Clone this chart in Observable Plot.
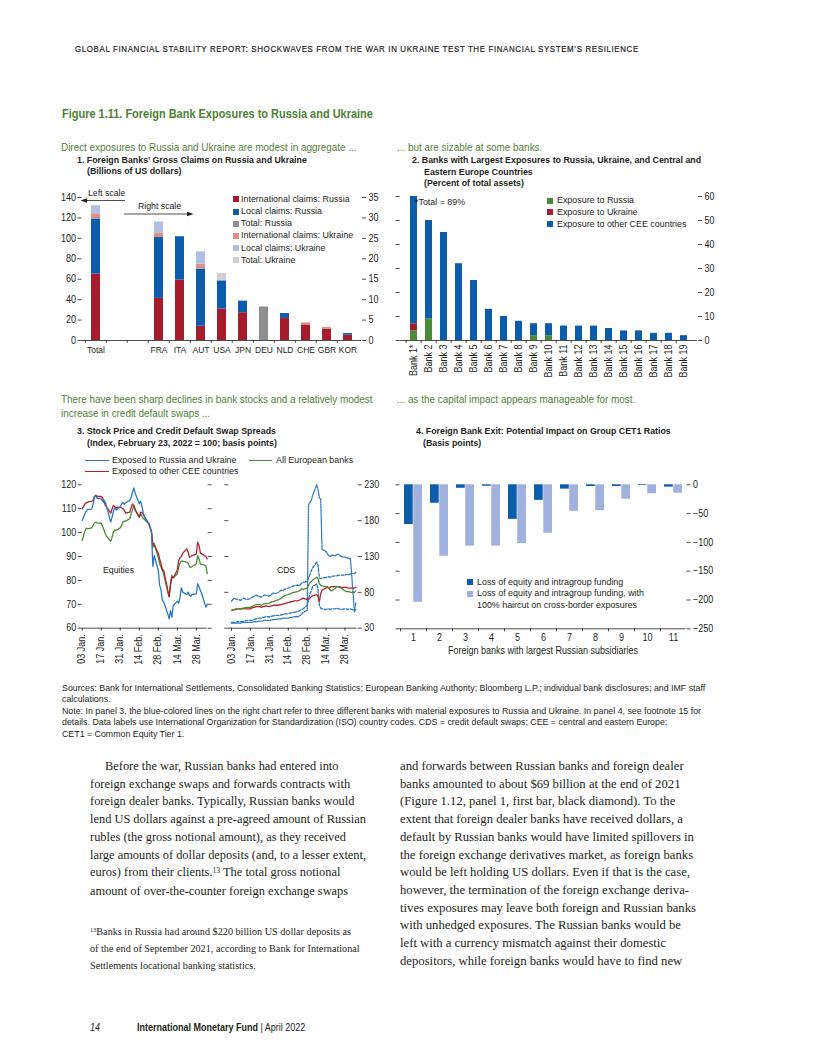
<!DOCTYPE html>
<html><head><meta charset="utf-8">
<script src="https://cdn.jsdelivr.net/npm/d3@7"></script>
<script src="https://cdn.jsdelivr.net/npm/@observablehq/plot@0.6"></script>
<style>
html,body{margin:0;padding:0;background:#fff;}
#page{position:relative;width:816px;height:1056px;overflow:hidden;background:#fff;font-family:"Liberation Sans","Arial",sans-serif;color:#231f20;}
.t{position:absolute;white-space:nowrap;line-height:1;transform-origin:0 50%;}
.g{color:#4f8236;}
.b{font-weight:bold;}
.serif{font-family:"Liberation Serif","DejaVu Serif",serif;}
.sup{font-size:0.62em;position:relative;top:-0.45em;}
</style></head><body><div id="page"></div>
<script>
// ---------------- DATA ----------------
// Panel 1: Foreign banks' gross claims (Total on left scale, countries on right scale; billions of US dollars)
const p1Slots = ["Total", "gap1", "gap2", "FRA", "ITA", "AUT", "USA", "JPN", "DEU", "NLD", "CHE", "GBR", "KOR"];
const p1Countries = ["Total", "FRA", "ITA", "AUT", "USA", "JPN", "DEU", "NLD", "CHE", "GBR", "KOR"];
const p1Series = ["International claims: Russia", "Local claims: Russia", "Total: Russia", "International claims: Ukraine", "Local claims: Ukraine", "Total: Ukraine"];
const intlRussia   = [65, 10.3, 14.8, 3.5, 7.7, 6.8, 0,   5.4, 3.8, 2.8, 1.3];
const localRussia  = [54, 14.9, 10.6, 14.0, 6.9, 2.8, 0,  1.2, 0,   0,   0.4];
const totalRussia  = [0,  0,    0,    0,   0,   0,   8.2, 0,   0,   0,   0];
const intlUkraine  = [5,  1.0,  0,    1.2, 0,   0,   0,   0,   0.5, 0.4, 0];
const localUkraine = [8,  2.8,  0,    3.0, 0,   0.2, 0,   0,   0,   0,   0];
const totalUkraine = [0,  0,    0,    0,   1.8, 0,   0,   0,   0,   0,   0];
const p1LeftTicks = [0, 20, 40, 60, 80, 100, 120, 140];
const p1RightToLeft = 4; // right scale 0–35 corresponds to left scale 0–140

// Panel 2: banks with largest exposures (percent of total assets)
const p2Banks = ["Bank 1*", "Bank 2", "Bank 3", "Bank 4", "Bank 5", "Bank 6", "Bank 7", "Bank 8", "Bank 9", "Bank 10", "Bank 11", "Bank 12", "Bank 13", "Bank 14", "Bank 15", "Bank 16", "Bank 17", "Bank 18", "Bank 19"];
const p2Series = ["Exposure to Russia", "Exposure to Ukraine", "Exposure to other CEE countries"];
const expRussia   = [4, 9, 0, 0, 0, 0, 0, 0, 2, 2, 0, 0, 0, 0, 0, 0, 0, 0, 0];
const expUkraine  = [3, 0, 0, 0, 0, 0, 0, 0, 0, 0, 0, 0, 0, 0, 0, 0, 0, 0, 0];
const expOtherCEE = [82, 41, 45, 32, 25, 13, 10, 8, 5, 5, 6, 6, 6, 5, 4, 4, 3, 3, 2];
const p2Ticks = [0, 10, 20, 30, 40, 50, 60];

// Panel 3: equities (index) and CDS (basis points)
const p3Dates = ["2022-01-03","2022-01-04","2022-01-05","2022-01-06","2022-01-07","2022-01-10","2022-01-11","2022-01-12","2022-01-13","2022-01-14",
  "2022-01-17","2022-01-18","2022-01-19","2022-01-20","2022-01-21","2022-01-24","2022-01-25","2022-01-26","2022-01-27","2022-01-28",
  "2022-01-31","2022-02-01","2022-02-02","2022-02-03","2022-02-04","2022-02-07","2022-02-08","2022-02-09","2022-02-10","2022-02-11",
  "2022-02-14","2022-02-15","2022-02-16","2022-02-17","2022-02-18","2022-02-21","2022-02-22","2022-02-23","2022-02-24","2022-02-25",
  "2022-02-28","2022-03-01","2022-03-02","2022-03-03","2022-03-04","2022-03-07","2022-03-08","2022-03-09","2022-03-10","2022-03-11",
  "2022-03-14","2022-03-15","2022-03-16","2022-03-17","2022-03-18","2022-03-21","2022-03-22","2022-03-23","2022-03-24","2022-03-25",
  "2022-03-28","2022-03-29","2022-03-30","2022-03-31","2022-04-01","2022-04-04","2022-04-05"];
const eqRussiaUkraine = [105.1,106.5,107.9,109,109.7,109.8,111.8,114.8,115.4,114.3, 114.1,113.2,113.7,112.7,110.7,104.4,106.5,109,110.4,109.5,
  110.7,112,112.7,111.8,112.6,113.4,114.8,116.9,118.7,116.5, 112,113.2,110.9,107.9,106.5,103.7,102.3,100.2,85.8,90.4,
  84.2,77.9,76.1,71.6,70.9,66,63.9,67.4,64.6,69.5, 71.3,70.5,73,76.9,75.1,74.1,75.1,73.7,73.3,74.1, 74.4,78.6,77.2,75.8,74.4,68.8,70];
const eqOtherCEE = [110,111,112,112.5,112.7,113.2,113.4,115.1,115.7,115.1, 115.1,114.6,112.7,111.5,110.7,108.1,110,111.4,110.8,110.4,
  110.7,110.4,110,109.3,108.1,108.6,110.4,112,111.4,109.5, 106.5,108.6,108.4,107.6,106.5,103.7,102,100.2,95.6,94.6,
  91.4,89,87,84.4,84.2,75.8,73.3,77.9,81.4,81.1, 84.2,88.3,89.5,90,91.4,93.2,91.8,89.7,90,90.4, 91.1,96,94.6,91.4,91.1,90,89];
const eqAllEuropean = [96.7,98.8,100.6,101.9,101.6,102,103,104,104.4,104, 104,102.6,101.2,99.5,98.4,96.4,98.1,100.2,101.2,100.9,
  102,103,104.4,104.8,104.8,105.8,107.9,109.5,111.4,109.5, 106.5,107.9,106.8,105.8,105.4,103.7,102.3,100.2,93.9,95.6,
  89.5,87,85.6,84.2,82.5,75.1,73,79.3,82.1,81.1, 82.8,85.6,87.2,88.1,88.1,87.6,87.2,85.6,85.6,85.8, 86.9,90.4,89,86.9,86.7,86.2,82.8];
const cdsBankA = [37,37,37,37,37,37,38,38,38,38,38,38,39,39,39,40,40,40,41,41,41,
  41,42,42,42,43,43,43,44,44,44,45,45,45,46,46,47,48,50,52,55,
  202,205,208,215,230,224,212,210,140,137,134,131,130,132,131,133,133,132,130,129,128,128,127,127,53,56];
const cdsBankB = [68,70,72,71,70,69,71,72,71,70,71,73,74,75,76,74,73,75,76,76,75,
  76,78,79,78,80,82,83,82,84,86,87,88,88,89,90,89,91,93,94,95,
  100,105,110,114,122,118,100,99,100,101,101,102,101,102,103,103,104,104,104,104,105,105,104,106,106,108];
const cdsBankC = [38,38,38,38,39,39,39,40,40,41,41,41,42,42,43,44,44,45,45,46,46,
  46,47,47,48,48,48,49,49,50,50,51,51,52,52,53,54,55,56,57,62,
  70,78,82,88,92,85,62,58,57,56,57,57,56,57,57,58,57,57,56,57,57,56,57,57,55,65];
const cdsOtherCEE = [55,55,56,56,57,57,57,57,58,57,57,58,59,59,60,60,59,60,60,61,60,
  61,61,62,62,62,63,63,64,64,66,66,67,67,68,68,69,70,71,72,70,
  70,72,74,75,77,74,67,78,83,86,87,86,87,88,88,88,88,88,87,87,87,86,86,86,86,87];
const cdsAllEuropean = [55,56,56,57,57,57,58,58,58,59,59,60,61,62,63,63,62,63,64,64,65,
  66,67,67,68,70,71,72,74,75,77,78,78,80,80,81,82,83,85,84,86,
  90,93,95,97,101,99,92,90,89,88,88,86,83,82,86,88,88,87,86,82,81,81,81,80,80,82];
const p3TickDates = ["2022-01-03","2022-01-17","2022-01-31","2022-02-14","2022-02-28","2022-03-14","2022-03-28"];
const eqTicks = [60, 70, 80, 90, 100, 110, 120];
const cdsTicks = [30, 80, 130, 180, 230];

// Panel 4: potential impact on group CET1 ratios (basis points)
const p4Banks = ["1", "2", "3", "4", "5", "6", "7", "8", "9", "10", "11"];
const lossEquity  = [-69, -32, -6, -2.5, -60, -27, -7.5, -3, -3, -1.2, -4];
const lossHaircut = [-204, -124, -106.5, -106.5, -102, -84, -46, -45, -25, -15.6, -14.5];
const p4Ticks = [0, -50, -100, -150, -200, -250];

// ---------------- STYLE ----------------
const FONT = '"Liberation Sans","Arial",sans-serif';
const CONDENSE = 0.9;
const INK = "#231f20";
const RED = "#a51d2d", BLUE = "#0b5cab", GREEN = "#4b8a37";
const LINE_BLUE = "#2a78c2", LINE_RED = "#b3202f", LINE_GREEN = "#4f8a35";
const p1Colors = [RED, BLUE, "#8f8f8f", "#dc9083", "#b1bfe4", "#d0d0d0"];
const p2Colors = [GREEN, RED, BLUE];
const p4Colors = [BLUE, "#a0b1dd"];
const LEG = 9.9;     // legend text size
const TTL = 9.8;     // panel title size
const SUB = 11;      // green subtitle size

const page = document.getElementById("page");
function txt(x, cy, size, html, cls = "", extra = {}, center = false) {
  const d = document.createElement("div");
  d.className = "t " + cls;
  d.style.left = x + "px";
  d.style.top = (cy - size * 0.55) + "px";
  d.style.fontSize = size + "px";
  if (center) { d.style.transformOrigin = "50% 50%"; d.style.transform = `translateX(-50%) scaleX(${CONDENSE})`; }
  else d.style.transform = `scaleX(${CONDENSE})`;
  Object.assign(d.style, extra);
  d.innerHTML = html;
  page.appendChild(d);
  return d;
}
function swatch(x, cy, color, size = 6) {
  const d = document.createElement("div");
  Object.assign(d.style, {position: "absolute", left: x + "px", top: (cy - size / 2) + "px", width: size + "px", height: size + "px", background: color});
  page.appendChild(d);
}
function lineKey(x1, x2, cy, color) {
  const d = document.createElement("div");
  Object.assign(d.style, {position: "absolute", left: x1 + "px", top: (cy - 0.7) + "px", width: (x2 - x1) + "px", height: "1.4px", background: color});
  page.appendChild(d);
}
// condense SVG text horizontally around each label's own anchor point
function condense(svg) {
  svg.querySelectorAll("text").forEach(t => {
    const tr = t.getAttribute("transform");
    if (tr) { t.setAttribute("transform", `${tr} scale(${CONDENSE},1)`); return; }
    const x = parseFloat(t.getAttribute("x") || "0");
    if (!isNaN(x)) { t.setAttribute("x", 0); t.setAttribute("transform", `translate(${x},0) scale(${CONDENSE},1)`); }
  });
  return svg;
}
function mount(svg, left, top) {
  condense(svg);
  svg.style.position = "absolute";
  svg.style.left = left + "px";
  svg.style.top = top + "px";
  page.appendChild(svg);
}
const chartStyle = () => ({fontFamily: FONT, fontSize: "10px", color: INK, background: "transparent", overflow: "visible"});

// ---------------- PAGE TEXT ----------------
txt(75, 50, 8.8, "GLOBAL FINANCIAL STABILITY REPORT: SHOCKWAVES FROM THE WAR IN UKRAINE TEST THE FINANCIAL SYSTEM’S RESILIENCE", "", {letterSpacing: "0.7px", webkitTextStroke: "0.2px #231f20"});
txt(62, 115, 12.2, "Figure 1.11. Foreign Bank Exposures to Russia and Ukraine", "g b");

txt(61, 148, SUB, "Direct exposures to Russia and Ukraine are modest in aggregate ...", "g");
txt(77, 160, TTL, "1. Foreign Banks’ Gross Claims on Russia and Ukraine", "b");
txt(86.5, 171.5, TTL, "(Billions of US dollars)", "b");

txt(397, 148, SUB, "... but are sizable at some banks.", "g");
txt(412, 160, TTL, "2. Banks with Largest Exposures to Russia, Ukraine, and Central and", "b");
txt(423.5, 172, TTL, "Eastern Europe Countries", "b");
txt(423.5, 183.5, TTL, "(Percent of total assets)", "b");

txt(61, 400, SUB, "There have been sharp declines in bank stocks and a relatively modest", "g");
txt(61, 414, SUB, "increase in credit default swaps ...", "g");
txt(77, 431.5, TTL, "3. Stock Price and Credit Default Swap Spreads", "b");
txt(86.5, 443.5, TTL, "(Index, February 23, 2022 = 100; basis points)", "b");

txt(397, 400, SUB, "... as the capital impact appears manageable for most.", "g");
txt(416, 431.5, TTL, "4. Foreign Bank Exit: Potential Impact on Group CET1 Ratios", "b");
txt(423, 443.5, TTL, "(Basis points)", "b");

// ---------------- PANEL 1 ----------------
{
  const W = 350, H = 175, ML = 41.5, MR = 29, MT = 12, MB = 20;
  const step = (W - ML - MR) / p1Slots.length;
  const values = [intlRussia, localRussia, totalRussia, intlUkraine, localUkraine, totalUkraine];
  const data = [];
  p1Series.forEach((s, si) => p1Countries.forEach((c, ci) => {
    const v = values[si][ci];
    data.push({country: c, series: s, value: c === "Total" ? v : v * p1RightToLeft});
  }));
  const svg = Plot.plot({
    width: W, height: H, marginLeft: ML, marginRight: MR, marginTop: MT, marginBottom: MB,
    style: chartStyle(),
    x: {domain: p1Slots, paddingInner: 0.58, paddingOuter: 0.29, label: null},
    y: {domain: [0, 140], label: null},
    color: {domain: p1Series, range: p1Colors},
    marks: [
      Plot.barY(data, {x: "country", y: "value", fill: "series"}),
      Plot.ruleY([0], {stroke: INK, strokeWidth: 0.8}),
      Plot.axisY({anchor: "left", ticks: p1LeftTicks, tickSize: 4, tickPadding: 2, strokeWidth: 0.8, label: null}),
      Plot.axisY({anchor: "right", ticks: p1LeftTicks, tickSize: 4, tickPadding: 3, strokeWidth: 0.8, tickFormat: d => d / p1RightToLeft, label: null}),
      Plot.axisX({tickSize: 3, strokeWidth: 0.8, tickFormat: () => "", dx: -step / 2, label: null}),
      Plot.axisX({tickSize: 0, tickPadding: 6, fontSize: 9.4, tickFormat: d => d.startsWith("gap") ? "" : d, label: null})
    ]
  });
  mount(svg, 40, 185);
  const rows = [199.3, 211.5, 223.6, 235.8, 248, 260.2];
  p1Series.forEach((s, i) => { swatch(233, rows[i], p1Colors[i]); txt(241, rows[i], LEG, s); });
  txt(88, 193, 9.7, "Left scale");
  txt(137.5, 206.5, 9.7, "Right scale");
  const ns = "http://www.w3.org/2000/svg";
  const ov = document.createElementNS(ns, "svg");
  ov.setAttribute("width", 816); ov.setAttribute("height", 1056);
  Object.assign(ov.style, {position: "absolute", left: "0px", top: "0px", pointerEvents: "none"});
  ov.innerHTML = `<line x1="125" y1="200.5" x2="85" y2="200.5" stroke="${INK}" stroke-width="0.8"/>
    <polygon points="80.5,200.5 87,198.2 87,202.8" fill="${INK}"/>
    <line x1="124" y1="214" x2="189" y2="214" stroke="${INK}" stroke-width="0.8"/>
    <polygon points="193.5,214 187,211.7 187,216.3" fill="${INK}"/>`;
  page.appendChild(ov);
}

// ---------------- PANEL 2 ----------------
{
  const W = 350, H = 205, ML = 29.7, MR = 23.1, MT = 11, MB = 50;
  const step = (W - ML - MR) / p2Banks.length;
  const values = [expRussia, expUkraine, expOtherCEE];
  const data = [];
  p2Series.forEach((s, si) => p2Banks.forEach((b, bi) => data.push({bank: b, series: s, value: values[si][bi]})));
  const svg = Plot.plot({
    width: W, height: H, marginLeft: ML, marginRight: MR, marginTop: MT, marginBottom: MB,
    style: chartStyle(),
    x: {domain: p2Banks, paddingInner: 0.55, paddingOuter: 0.275, label: null},
    y: {domain: [0, 60], label: null},
    color: {domain: p2Series, range: p2Colors},
    marks: [
      Plot.barY(data, {x: "bank", y: "value", fill: "series", clip: true}),
      Plot.ruleY([0], {stroke: INK, strokeWidth: 0.8}),
      Plot.axisY({anchor: "left", ticks: p2Ticks, tickSize: 4, strokeWidth: 0.8, tickFormat: () => "", label: null}),
      Plot.axisY({anchor: "right", ticks: p2Ticks, tickSize: 4, tickPadding: 3, strokeWidth: 0.8, label: null}),
      Plot.axisX({tickSize: 3, strokeWidth: 0.8, tickFormat: () => "", dx: -step / 2, label: null}),
      Plot.axisX({tickSize: 0, tickPadding: 4, tickRotate: -90, label: null})
    ]
  });
  mount(svg, 370, 185);
  const rows = [200.7, 212.2, 224];
  p2Series.forEach((s, i) => { swatch(547, rows[i], p2Colors[i]); txt(556.5, rows[i], LEG, s); });
  txt(415, 202.3, LEG, "*Total = 89%");
}

// ---------------- PANEL 3 ----------------
{
  const dates = p3Dates.map(d => new Date(d));
  const tickDates = p3TickDates.map(d => new Date(d));
  const fmt = d3.utcFormat("%d %b.");
  const series = (arr) => arr.map((v, i) => ({date: dates[i], value: v}));

  // Equities (left)
  const eq = Plot.plot({
    width: 180, height: 205, marginLeft: 41.7, marginRight: 13.3, marginTop: 9.3, marginBottom: 52.3,
    style: chartStyle(),
    x: {type: "utc", domain: [new Date("2022-01-03"), new Date("2022-04-05")], label: null},
    y: {domain: [60, 120], label: null},
    marks: [
      Plot.ruleY([60], {stroke: INK, strokeWidth: 0.8}),
      Plot.line(series(eqAllEuropean), {x: "date", y: "value", stroke: LINE_GREEN, strokeWidth: 1.3}),
      Plot.line(series(eqOtherCEE), {x: "date", y: "value", stroke: LINE_RED, strokeWidth: 1.3}),
      Plot.line(series(eqRussiaUkraine), {x: "date", y: "value", stroke: LINE_BLUE, strokeWidth: 1.3}),
      Plot.axisY({anchor: "left", ticks: eqTicks, tickSize: 4, tickPadding: 2, strokeWidth: 0.8, label: null}),
      Plot.axisY({anchor: "right", ticks: eqTicks, tickSize: 4, strokeWidth: 0.8, tickFormat: () => "", label: null}),
      Plot.axisX({ticks: tickDates, tickSize: 3, strokeWidth: 0.8, tickFormat: fmt, tickRotate: -90, tickPadding: 3, label: null})
    ]
  });
  mount(eq, 40, 475);

  // CDS (right)
  const cds = Plot.plot({
    width: 170, height: 205, marginLeft: 10.3, marginRight: 31.3, marginTop: 9.3, marginBottom: 52.3,
    style: chartStyle(),
    x: {type: "utc", domain: [new Date("2022-01-01"), new Date("2022-04-06")], label: null},
    y: {domain: [30, 230], label: null},
    marks: [
      Plot.ruleY([30], {stroke: INK, strokeWidth: 0.8}),
      Plot.line(series(cdsBankC), {x: "date", y: "value", stroke: LINE_BLUE, strokeWidth: 1.3, strokeDasharray: "3,1.6"}),
      Plot.line(series(cdsBankB), {x: "date", y: "value", stroke: LINE_BLUE, strokeWidth: 1.3, strokeDasharray: "3,1.6"}),
      Plot.line(series(cdsBankA), {x: "date", y: "value", stroke: LINE_BLUE, strokeWidth: 1.3, strokeDasharray: "1.4,1.2"}),
      Plot.line(series(cdsOtherCEE), {x: "date", y: "value", stroke: LINE_RED, strokeWidth: 1.3}),
      Plot.line(series(cdsAllEuropean), {x: "date", y: "value", stroke: LINE_GREEN, strokeWidth: 1.3}),
      Plot.axisY({anchor: "left", ticks: cdsTicks, tickSize: 4, strokeWidth: 0.8, tickFormat: () => "", label: null}),
      Plot.axisY({anchor: "right", ticks: cdsTicks, tickSize: 4, tickPadding: 3, strokeWidth: 0.8, label: null}),
      Plot.axisX({ticks: tickDates, tickSize: 3, strokeWidth: 0.8, tickFormat: fmt, tickRotate: -90, tickPadding: 3, label: null})
    ]
  });
  mount(cds, 218, 475);

  lineKey(85, 108.5, 460.3, LINE_BLUE);  txt(112.3, 460.3, LEG, "Exposed to Russia and Ukraine");
  lineKey(85, 108.5, 471.8, LINE_RED);   txt(112.3, 471.8, LEG, "Exposed to other CEE countries");
  lineKey(249.3, 272, 460.3, LINE_GREEN); txt(275.7, 460.3, LEG, "All European banks");
  txt(103, 570, 9.7, "Equities");
  txt(277, 570, 9.7, "CDS");
}

// ---------------- PANEL 4 ----------------
{
  const W = 350, H = 190, ML = 29.5, MR = 34.5, MT = 9.3, MB = 36.7;
  const bw = (W - ML - MR) / p4Banks.length * 0.69;
  const data = p4Banks.map((b, i) => ({bank: b, equity: lossEquity[i], haircut: lossHaircut[i]}));
  const svg = Plot.plot({
    width: W, height: H, marginLeft: ML, marginRight: MR, marginTop: MT, marginBottom: MB,
    style: chartStyle(),
    x: {domain: p4Banks, paddingInner: 0.31, paddingOuter: 0.155, label: null},
    y: {domain: [-250, 0], label: null},
    marks: [
      Plot.barY(data, {x: "bank", y: "equity", fill: p4Colors[0], insetRight: bw / 2 + 0.3}),
      Plot.barY(data, {x: "bank", y: "haircut", fill: p4Colors[1], insetLeft: bw / 2 + 0.3}),
      Plot.ruleY([-250], {stroke: INK, strokeWidth: 0.8}),
      Plot.axisY({anchor: "left", ticks: p4Ticks, tickSize: 4, strokeWidth: 0.8, tickFormat: () => "", label: null}),
      Plot.axisY({anchor: "right", ticks: p4Ticks, tickSize: 4, tickPadding: 3, strokeWidth: 0.8, label: null}),
      Plot.axisX({tickSize: 3, strokeWidth: 0.8, tickFormat: () => "", dx: -(W - ML - MR) / p4Banks.length / 2, label: null}),
      Plot.axisX({tickSize: 0, tickPadding: 5, label: null})
    ]
  });
  mount(svg, 370, 475);
  swatch(466.5, 582.3, p4Colors[0]);
  txt(477, 582.3, LEG, "Loss of equity and intragroup funding");
  swatch(466.5, 593.6, p4Colors[1]);
  txt(477, 593.6, LEG, "Loss of equity and intragroup funding, with");
  txt(477, 605.5, LEG, "100% haircut on cross-border exposures");
  txt(542.5, 651, 10, "Foreign banks with largest Russian subsidiaries", "", {}, true);
}

// ---------------- SOURCES / NOTE ----------------
{
  const d = document.createElement("div");
  Object.assign(d.style, {position: "absolute", left: "62px", top: "681.5px", fontSize: "9.8px", lineHeight: "11.6px", whiteSpace: "nowrap", transform: `scaleX(${CONDENSE})`, transformOrigin: "0 0"});
  d.innerHTML = "Sources: Bank for International Settlements, Consolidated Banking Statistics; European Banking Authority; Bloomberg L.P.; individual bank disclosures; and IMF staff<br>" +
    "calculations.<br>" +
    "Note: In panel 3, the blue-colored lines on the right chart refer to three different banks with material exposures to Russia and Ukraine. In panel 4, see footnote 15 for<br>" +
    "details. Data labels use International Organization for Standardization (ISO) country codes. CDS = credit default swaps; CEE = central and eastern Europe;<br>" +
    "CET1 = Common Equity Tier 1.";
  page.appendChild(d);
}

// ---------------- BODY TEXT ----------------
{
  const left = document.createElement("div");
  left.className = "serif";
  Object.assign(left.style, {position: "absolute", left: "90px", top: "758px", fontSize: "12.4px", lineHeight: "17.7px", whiteSpace: "nowrap"});
  left.innerHTML = "<span style='padding-left:15px'></span>Before the war, Russian banks had entered into<br>" +
    "foreign exchange swaps and forwards contracts with<br>" +
    "foreign dealer banks. Typically, Russian banks would<br>" +
    "lend US dollars against a pre-agreed amount of Russian<br>" +
    "rubles (the gross notional amount), as they received<br>" +
    "large amounts of dollar deposits (and, to a lesser extent,<br>" +
    "euros) from their clients.<span class='sup'>13</span> The total gross notional<br>" +
    "amount of over-the-counter foreign exchange swaps";
  page.appendChild(left);

  const fn = document.createElement("div");
  fn.className = "serif";
  Object.assign(fn.style, {position: "absolute", left: "90px", top: "923.5px", fontSize: "10.2px", lineHeight: "16.6px", whiteSpace: "nowrap"});
  fn.innerHTML = "<span class='sup'>13</span>Banks in Russia had around $220 billion US dollar deposits as<br>" +
    "of the end of September 2021, according to Bank for International<br>" +
    "Settlements locational banking statistics.";
  page.appendChild(fn);

  const right = document.createElement("div");
  right.className = "serif";
  Object.assign(right.style, {position: "absolute", left: "400px", top: "758px", fontSize: "12.7px", lineHeight: "17.7px", whiteSpace: "nowrap"});
  right.innerHTML = "and forwards between Russian banks and foreign dealer<br>" +
    "banks amounted to about $69 billion at the end of 2021<br>" +
    "(Figure 1.12, panel 1, first bar, black diamond). To the<br>" +
    "extent that foreign dealer banks have received dollars, a<br>" +
    "default by Russian banks would have limited spillovers in<br>" +
    "the foreign exchange derivatives market, as foreign banks<br>" +
    "would be left holding US dollars. Even if that is the case,<br>" +
    "however, the termination of the foreign exchange deriva-<br>" +
    "tives exposures may leave both foreign and Russian banks<br>" +
    "with unhedged exposures. The Russian banks would be<br>" +
    "left with a currency mismatch against their domestic<br>" +
    "depositors, while foreign banks would have to find new";
  page.appendChild(right);
}

// ---------------- FOOTER ----------------
txt(90, 1028, 10, "<i>14</i>");
txt(137, 1028, 10, "<b>International Monetary Fund</b> | April 2022");
</script></body></html>
